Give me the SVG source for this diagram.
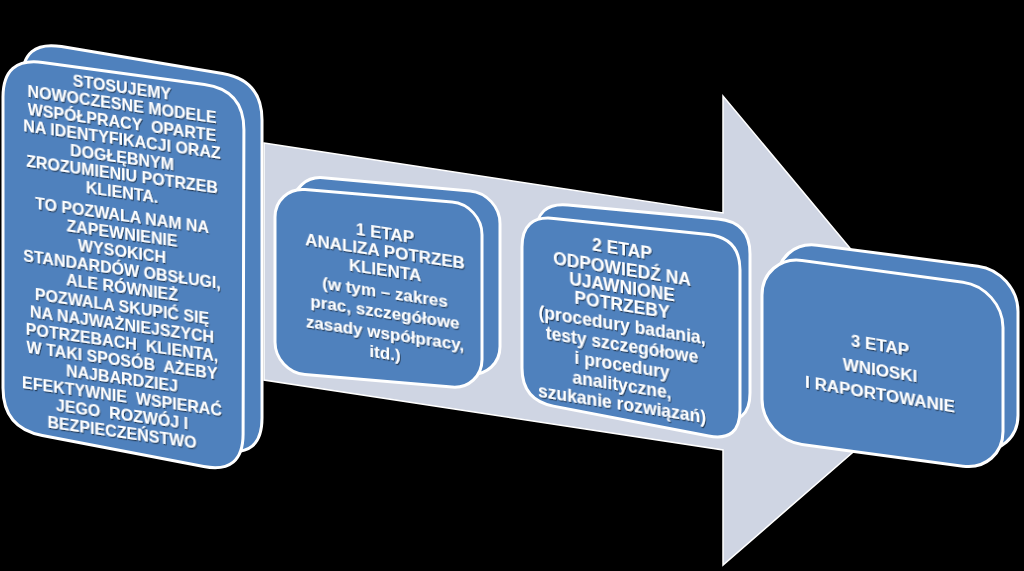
<svg xmlns="http://www.w3.org/2000/svg" width="1024" height="571" viewBox="0 0 1024 571">
<defs>
<style>
.face{fill:#4f81bd;stroke:#ffffff;stroke-width:3}
.arrow{fill:#cfd5e3;stroke:#ffffff;stroke-width:1.5}
.t{font-family:"Liberation Sans",Arial,sans-serif;font-weight:bold;fill:#ffffff;text-anchor:middle}
</style>
<filter id="sh" x="-10%" y="-10%" width="120%" height="120%">
<feDropShadow dx="1" dy="1.2" stdDeviation="0.6" flood-color="#000" flood-opacity="0.55"/>
</filter>
</defs>
<rect width="1024" height="571" fill="#000"/>
<g id="connectors">
<polygon class="arrow" points="264,143 723,213 723,96 950,368 723,565 723,450 264,380"/>
</g>
<g id="node0">
<path class="face" d="M22,80 Q22,40 61.5,46.6 L222.5,73.4 Q262,80 262,120 L262,418 Q262,458 222.8,450.2 L61.2,417.8 Q22,410 22,370 Z"/>
<path class="face" d="M3,97 Q3,57 42.6,62.4 L204.4,84.6 Q244,90 243.9,130 L243.1,434 Q243,474 203.7,466.5 L42.3,435.5 Q3,428 3,388 Z"/>
<g class="t" font-size="16" filter="url(#sh)" transform="translate(122,0) skewY(8)">
<text x="0" y="93">STOSUJEMY</text>
<text x="0" y="110.5">NOWOCZESNE MODELE</text>
<text x="0" y="128" xml:space="preserve">WSPÓŁPRACY  OPARTE</text>
<text x="0" y="145.5">NA IDENTYFIKACJI ORAZ</text>
<text x="0" y="163">DOGŁĘBNYM</text>
<text x="0" y="180.5">ZROZUMIENIU POTRZEB</text>
<text x="0" y="198">KLIENTA.</text>
<text x="0" y="221">TO POZWALA NAM NA</text>
<text x="0" y="239">ZAPEWNIENIE</text>
<text x="0" y="257">WYSOKICH</text>
<text x="0" y="275">STANDARDÓW OBSŁUGI,</text>
<text x="0" y="293">ALE RÓWNIEŻ</text>
<text x="0" y="312">POZWALA SKUPIĆ SIĘ</text>
<text x="0" y="330">NA NAJWAŻNIEJSZYCH</text>
<text x="0" y="348" xml:space="preserve">POTRZEBACH  KLIENTA,</text>
<text x="0" y="366" xml:space="preserve">W TAKI SPOSÓB  AŻEBY</text>
<text x="0" y="384">NAJBARDZIEJ</text>
<text x="0" y="402" xml:space="preserve">EFEKTYWNIE  WSPIERAĆ</text>
<text x="0" y="420" xml:space="preserve">JEGO  ROZWÓJ I</text>
<text x="0" y="438">BEZPIECZEŃSTWO</text>
</g>
</g>
<g id="node1">
<rect class="face" x="0" y="0" width="207" height="183" rx="30" transform="matrix(1,0.09,0,1,293,175)"/>
<rect class="face" x="0" y="0" width="207" height="185" rx="30" transform="matrix(1,0.085,0,1,275,187)"/>
<g class="t" font-size="17" filter="url(#sh)" transform="translate(385,0) skewY(8.5)">
<text x="0" y="239">1 ETAP</text>
<text x="0" y="257.5">ANALIZA POTRZEB</text>
<text x="0" y="276">KLIENTA</text>
<text x="0" y="298">(w tym – zakres</text>
<text x="0" y="318.5">prac, szczegółowe</text>
<text x="0" y="339">zasady współpracy,</text>
<text x="0" y="359">itd.)</text>
</g>
</g>
<g id="node2">
<path class="face" d="M536,234 Q536,202 567.9,205 L718.1,219 Q750,222 750,254 L750,393 Q750,425 718.5,419.5 L567.5,393.5 Q536,388 536,356 Z"/>
<path class="face" d="M522,247 Q522,215 553.8,218.4 L708.2,234.6 Q740,238 740,270 L740,410 Q740,442 708.6,436 L553.4,406.1 Q522,400 522,368 Z"/>
<g class="t" font-size="17.5" filter="url(#sh)" transform="translate(622,0) skewY(9)">
<text x="0" y="255">2 ETAP</text>
<text x="0" y="275">ODPOWIEDŹ NA</text>
<text x="0" y="293">UJAWNIONE</text>
<text x="0" y="311">POTRZEBY</text>
<text x="0" y="331">(procedury badania,</text>
<text x="0" y="351">testy szczegółowe</text>
<text x="0" y="371">i procedury</text>
<text x="0" y="391">analityczne,</text>
<text x="0" y="410">szukanie rozwiązań)</text>
</g>
</g>
<g id="node3">
<rect class="face" x="0" y="0" width="241" height="184" rx="40" transform="matrix(1,0.13,0,1,777,240)"/>
<rect class="face" x="0" y="0" width="241" height="184" rx="40" transform="matrix(1,0.135,0,1,762,255)"/>
<g class="t" font-size="17" filter="url(#sh)" transform="translate(880,0) skewY(9.5)">
<text x="0" y="351">3 ETAP</text>
<text x="0" y="376">WNIOSKI</text>
<text x="0" y="400">I RAPORTOWANIE</text>
</g>
</g>
</svg>
